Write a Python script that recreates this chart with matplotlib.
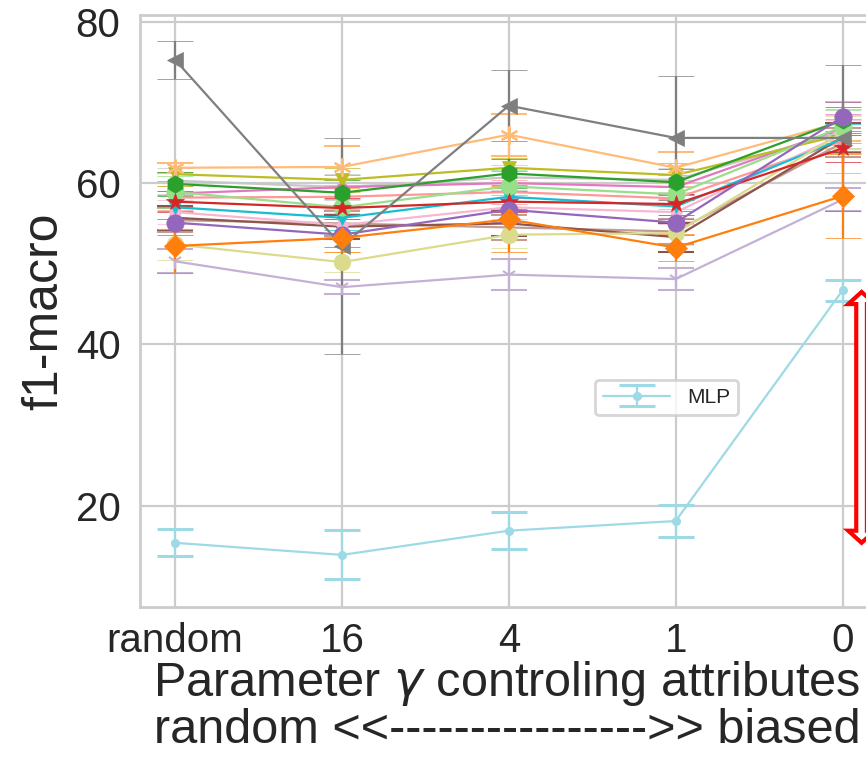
import matplotlib
matplotlib.use('Agg')
import matplotlib.pyplot as plt
import seaborn as sns
from matplotlib.patches import Polygon

sns.set_theme(style='whitegrid')
plt.rcParams['font.family'] = ['Liberation Sans', 'DejaVu Sans']

# ---------------- data ----------------
categories = ['random', '16', '4', '1', '0']

gray_mean = [75.3, 52.2, 69.6, 65.6, 65.6]
gray_err = [2.35, 13.4, 4.4, 7.7, 9.0]

peach_mean = [61.9, 62.0, 66.0, 61.9, 67.6]
peach_err = [0.6, 2.6, 2.6, 1.9, 2.4]

olive_mean = [61.1, 60.4, 61.9, 61.0, 66.0]
olive_err = [1.5, 1.5, 1.2, 1.5, 2.0]

lightgray_mean = [60.3, 59.5, 60.7, 60.4, 66.4]
lightgray_err = [1.6, 1.6, 1.5, 1.5, 2.0]

green_mean = [59.9, 58.8, 61.2, 60.1, 67.8]
green_err = [1.5, 1.6, 1.8, 1.6, 1.6]

pink_mean = [58.7, 59.5, 60.0, 59.5, 66.8]
pink_err = [1.5, 1.5, 1.5, 1.5, 1.8]

lightgreen_mean = [58.9, 57.0, 59.6, 58.6, 67.0]
lightgreen_err = [2.0, 2.0, 2.0, 1.8, 2.0]

salmon_mean = [58.2, 58.3, 58.9, 58.1, 65.2]
salmon_err = [1.5, 1.5, 1.5, 1.5, 4.0]

red_mean = [57.7, 56.9, 57.7, 57.4, 64.3]
red_err = [1.3, 1.3, 1.3, 1.3, 1.7]

cyan_mean = [57.0, 55.7, 58.3, 57.1, 65.5]
cyan_err = [1.5, 1.5, 1.5, 1.5, 1.8]

lightpink_mean = [56.4, 54.8, 57.0, 56.4, 66.0]
lightpink_err = [1.5, 1.5, 1.5, 1.5, 1.8]

lightbrown_mean = [55.4, 55.0, 54.5, 54.0, 65.0]
lightbrown_err = [1.5, 1.5, 1.5, 1.5, 1.8]

brown_mean = [55.7, 54.6, 55.0, 53.3, 65.7]
brown_err = [1.5, 1.5, 1.6, 1.8, 1.8]

purple_mean = [55.1, 53.6, 56.7, 55.1, 68.2]
purple_err = [1.5, 1.5, 1.5, 1.5, 1.8]

lightolive_mean = [52.4, 50.2, 53.6, 53.8, 66.3]
lightolive_err = [1.9, 1.2, 1.7, 1.5, 2.0]

orange_mean = [52.2, 53.2, 55.5, 52.0, 58.4]
orange_err = [3.3, 1.8, 4.1, 1.7, 5.2]

lightpurple_mean = [50.3, 47.1, 48.65, 48.1, 57.95]
lightpurple_err = [1.5, 0.9, 1.95, 1.4, 1.45]

mlp_mean = [15.4, 13.9, 16.9, 18.1, 46.7]
mlp_err = [1.65, 3.05, 2.3, 1.95, 1.3]

# (mean, err, color, marker, markersize)
series = [
    (lightgray_mean, lightgray_err, '#c7c7c7', '>', 7),
    (lightbrown_mean, lightbrown_err, '#c49c94', 'x', 7),
    (salmon_mean, salmon_err, '#ff9896', 's', 6),
    (pink_mean, pink_err, '#e377c2', 'p', 7),
    (brown_mean, brown_err, '#8c564b', '3', 9),
    (lightpink_mean, lightpink_err, '#f7b6d2', 'd', 10),
    (cyan_mean, cyan_err, '#17becf', 'v', 10),
    (olive_mean, olive_err, '#bcbd22', 'v', 10),
    (lightolive_mean, lightolive_err, '#dbdb8d', 'o', 12),
    (lightpurple_mean, lightpurple_err, '#c5b0d5', '1', 11),
    (peach_mean, peach_err, '#ffbb78', (6, 2, 0), 13),
    (lightgreen_mean, lightgreen_err, '#98df8a', 'o', 12.5),
    (red_mean, red_err, '#d62728', '*', 13),
    (green_mean, green_err, '#2ca02c', 'h', 12.5),
    (purple_mean, purple_err, '#9467bd', 'o', 12.5),
    (gray_mean, gray_err, '#7f7f7f', '<', 11),
    (orange_mean, orange_err, '#ff7f0e', 'D', 11.5),
]

# ---------------- figure ----------------
W, H = 866, 770
fig = plt.figure(figsize=(W / 100, H / 100), dpi=100)
ax = fig.add_axes([140 / W, (H - 607) / H, (877.6 - 140) / W, (607 - 15) / H])

x = list(range(len(categories)))
common = dict(capsize=13, capthick=2.2, elinewidth=1.6, linewidth=1.6)

for mean, err, color, marker, ms in series:
    ax.errorbar(x, mean, yerr=err, color=color, marker=marker, markersize=ms,
                markeredgewidth=1.5 if marker in ('x', '1', '3', (6, 2, 0)) else 0.5,
                markeredgecolor=color, **common)

mlp = ax.errorbar(x, mlp_mean, yerr=mlp_err, color='#9edae5', marker='o',
                  markersize=5.5, label='MLP', **common)

ax.set_xlim(-0.21, 4.21)
ax.set_ylim(7.44, 80.84)
ax.set_xticks(x)
ax.set_xticklabels(categories)
ax.set_yticks([20, 40, 60, 80])
ax.tick_params(axis='both', labelsize=29, colors='#262626')
ax.tick_params(axis='x', pad=5)
ax.tick_params(axis='y', pad=8)
ax.grid(True, color='#cccccc', linewidth=1.6)
for s in ax.spines.values():
    s.set_color('#cccccc')
    s.set_linewidth(2)

ax.set_ylabel('f1-macro', fontsize=36, color='#262626', labelpad=6)
ax.set_xlabel('Parameter $\\mathit{\\gamma}$ controling attributes\nrandom <<---------------->> biased',
              fontsize=35, color='#262626', linespacing=1.0)
ax.xaxis.set_label_coords((507 - 140) / 737.6, -0.088, transform=ax.transAxes)
ax.xaxis.label.set_verticalalignment('top')

leg = ax.legend(handles=[mlp], labels=['MLP'], loc='lower left',
                bbox_to_anchor=(0.617, 0.324), borderaxespad=0, fontsize=15,
                frameon=True, handlelength=3.2)
leg.get_frame().set_edgecolor('#cccccc')
leg.get_frame().set_linewidth(2)

# red double-headed arrow annotation
arrow_x = 4.114
arrow_top, arrow_bottom = 46.5, 15.4
shaft_hw, head_hw, head_len = 0.032, 0.08, 1.5
verts = [
    (arrow_x, arrow_top),
    (arrow_x + head_hw, arrow_top - head_len),
    (arrow_x + shaft_hw, arrow_top - head_len),
    (arrow_x + shaft_hw, arrow_bottom + head_len),
    (arrow_x + head_hw, arrow_bottom + head_len),
    (arrow_x, arrow_bottom),
    (arrow_x - head_hw, arrow_bottom + head_len),
    (arrow_x - shaft_hw, arrow_bottom + head_len),
    (arrow_x - shaft_hw, arrow_top - head_len),
    (arrow_x - head_hw, arrow_top - head_len),
]
ax.add_patch(Polygon(verts, closed=True, facecolor='white', edgecolor='red',
                     linewidth=3, clip_on=False, zorder=10))

fig.savefig('out.png', dpi=100)
